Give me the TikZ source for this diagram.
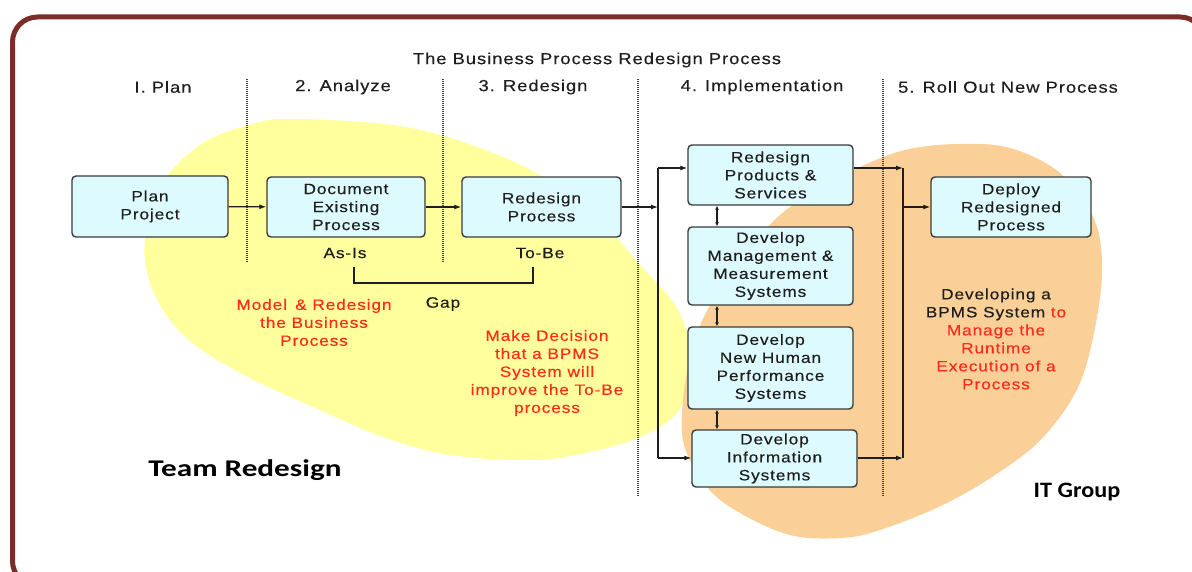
\documentclass[tikz,border=0pt]{standalone}
\usepackage{fontspec}
\usetikzlibrary{arrows.meta}
\newfontfamily\diagfont[LetterSpace=6, FakeStretch=1.15, FakeBold=0.3]{Liberation Sans}
\newfontfamily\notefont{Carlito}
\definecolor{framecol}{HTML}{7B2D27}
\definecolor{boxfill}{HTML}{DDFBFE}
\definecolor{boxline}{HTML}{3A3A3A}
\definecolor{teamyellow}{HTML}{FFFF9E}
\definecolor{itorange}{HTML}{FBCF98}
\definecolor{notered}{HTML}{FF2A1A}
\definecolor{ink}{HTML}{1E1E1E}
\definecolor{sepcol}{HTML}{404040}

\begin{document}
\begin{tikzpicture}[x=1pt,y=-1pt,
  every node/.style={font=\diagfont\fontsize{15}{18}\selectfont, text=ink, inner sep=0pt},
  procbox/.style={draw=boxline, fill=boxfill, line width=1.4pt, rounded corners=4pt, align=center},
  flow/.style={draw=ink, line width=1.1pt, -{Latex[length=7pt,width=5pt]}},
  link/.style={draw=ink, line width=1.1pt},
  twoway/.style={draw=ink, line width=1.1pt, {Latex[length=4pt,width=4pt]}-{Latex[length=4pt,width=4pt]}},
  sepline/.style={draw=sepcol, line width=1.2pt, dash pattern=on 1pt off 1pt},
  phase/.style={font=\diagfont\fontsize{16}{18}\selectfont},
  note/.style={align=center, text=notered},
  group/.style={font=\notefont\bfseries\fontsize{24}{28}\selectfont, text=black}]
\useasboundingbox (0,0) rectangle (1192,572);
\clip (0,0) rectangle (1192,572);

% outer frame
\draw[framecol, line width=5pt, rounded corners=25pt] (12.5,17) rectangle (1205,586);

% team areas
\fill[teamyellow] plot[smooth cycle, tension=0.6] coordinates {
  (290,119) (400,126) (480,148) (545,178) (600,220) (640,265) (675,305)
  (690,345) (688,385) (675,415) (640,437) (590,452) (533,460) (450,455)
  (383,437) (320,410) (250,378) (195,345) (163,310) (146,268) (147,226)
  (163,182) (200,145) (245,126)};
\fill[itorange] plot[smooth cycle, tension=0.6] coordinates {
  (957,144) (1010,148) (1060,173) (1093,217) (1102,262) (1097,317)
  (1080,383) (1047,433) (1007,467) (947,503) (880,530) (840,538)
  (790,535) (740,513) (707,487) (684,445) (683,400) (692,350) (710,305)
  (745,255) (780,215) (820,188) (860,167) (905,150)};

% phase separators
\draw[sepline] (247,79) -- (247,263);
\draw[sepline] (443,79) -- (443,263);
\draw[sepline] (638,79) -- (638,497);
\draw[sepline] (883,79) -- (883,497);

% headings
\node[phase] (title) at (597,60) {The Business Process Redesign Process};
\node[phase] (ph1) at (163,87) {I. Plan};
\node[phase] (ph2) at (343,87) {2. Analyze};
\node[phase] (ph3) at (533,87) {3. Redesign};
\node[phase] (ph4) at (762,87) {4. Implementation};
\node[phase] (ph5) at (1008,87) {5. Roll Out New Process};

% process steps
\node[procbox, minimum width=156pt, minimum height=61pt] (plan) at (150,206.5) {Plan\\Project};
\node[procbox, minimum width=158pt, minimum height=60pt] (doc) at (346,207) {Document\\Existing\\Process};
\node[procbox, minimum width=159pt, minimum height=60pt] (redes) at (541.5,207) {Redesign\\Process};
\node[procbox, minimum width=165pt, minimum height=60pt] (rps) at (770.5,175) {Redesign\\Products \&\\Services};
\node[procbox, minimum width=165pt, minimum height=78pt] (mms) at (770.5,266) {Develop\\Management \&\\Measurement\\Systems};
\node[procbox, minimum width=165pt, minimum height=82pt] (hps) at (770.5,368) {Develop\\New Human\\Performance\\Systems};
\node[procbox, minimum width=165pt, minimum height=57pt] (info) at (774.5,458.5) {Develop\\Information\\Systems};
\node[procbox, minimum width=160pt, minimum height=60pt] (deploy) at (1011,207) {Deploy\\Redesigned\\Process};

% flow
\coordinate (busLt) at (658,168);
\coordinate (busLb) at (658,458);
\coordinate (busRt) at (903,168);
\coordinate (busRb) at (903,458);
\coordinate (mid) at (717,0);

\draw[flow] (plan) -- (doc);
\draw[flow] (doc) -- (redes);
\draw[flow] (redes.east) -- (redes.east -| busLt);
\draw[link] (busLt) -- (busLb);
\draw[flow] (busLt) -- (busLt -| rps.west);
\draw[flow] (busLb) -- (busLb -| info.west);
\draw[twoway] (mid |- rps.south) -- (mid |- mms.north);
\draw[twoway] (mid |- mms.south) -- (mid |- hps.north);
\draw[twoway] (mid |- hps.south) -- (mid |- info.north);
\draw[flow] (busLt -| rps.east) -- (busRt);
\draw[flow] (busLb -| info.east) -- (busRb);
\draw[link] (busRt) -- (busRb);
\draw[flow] (busRt |- deploy.west) -- (deploy.west);

% as-is / to-be gap
\node (asis) at (345,253) {As-Is};
\node (tobe) at (540,253) {To-Be};
\coordinate (gapL) at (354,267);
\coordinate (gapR) at (533,267);
\draw[link, line width=1.3pt] (gapL) -- ++(0,16) -| (gapR);
\node (gap) at (443,304) {Gap};

% notes
\node[note] (model) at (314,322.5) {Model \,\& Redesign\\the Business\\Process};
\node[note] (decide) at (547,373) {Make Decision\\that a BPMS\\System will\\improve the To-Be\\process};
\node[note, text=ink] (bpms) at (996,339) {Developing a\\BPMS System \textcolor{notered}{to}\\\textcolor{notered}{Manage the}\\\textcolor{notered}{Runtime}\\\textcolor{notered}{Execution of a}\\\textcolor{notered}{Process}};

% groups
\node[group, xscale=1.3] (team) at (245,470) {Team Redesign};
\node[group, font=\notefont\bfseries\fontsize{22}{26}\selectfont, xscale=1.1] (itg) at (1077,492) {IT Group};
\end{tikzpicture}
\end{document}
